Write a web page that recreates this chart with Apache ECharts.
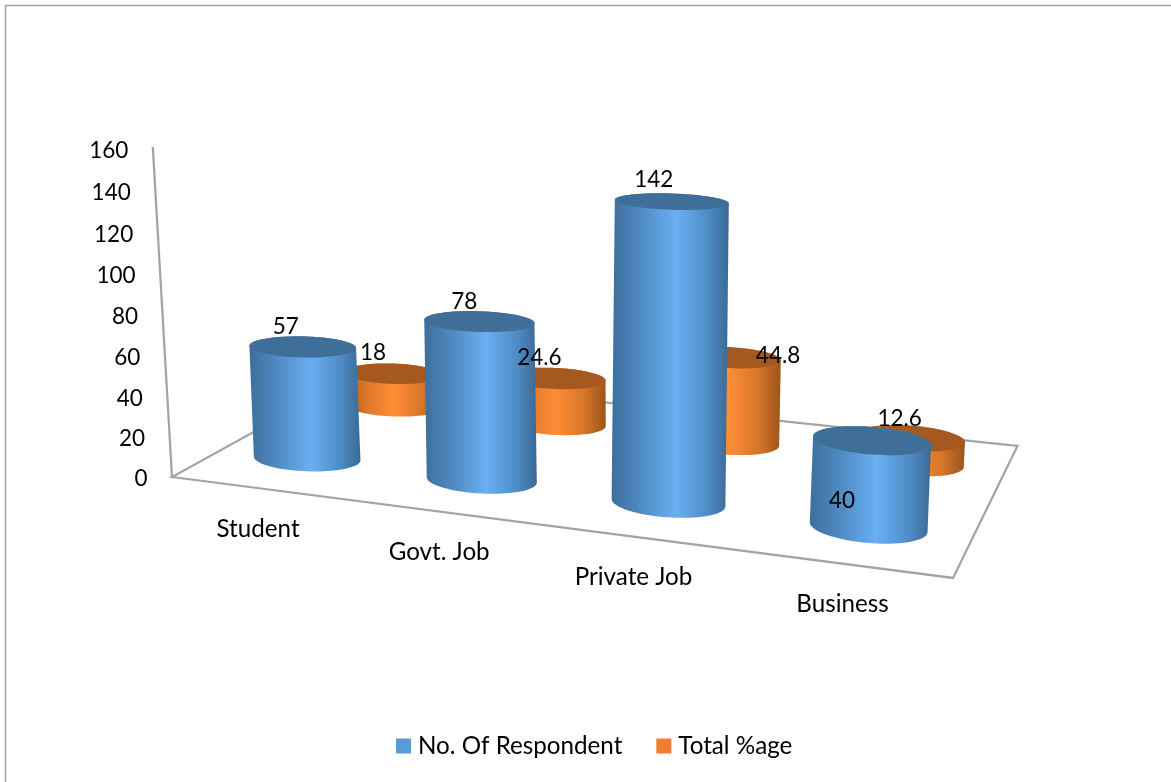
<!DOCTYPE html>
<html>
<head>
<meta charset="utf-8">
<style>html,body{margin:0;padding:0;background:#fff}#chart{width:1171px;height:782px}</style>
<script src="https://cdn.jsdelivr.net/npm/echarts@6/dist/echarts.min.js"></script>
</head>
<body>
<div id="chart"></div>
<script>
// Occupation survey: respondents and share per group
const categories = ['Student', 'Govt. Job', 'Private Job', 'Business'];
const respondents = [57, 78, 142, 40];
const percentages = [18, 24.6, 44.8, 12.6];
const yTicks = [0, 20, 40, 60, 80, 100, 120, 140, 160];

// Hand-placed data labels, as offsets from the centre of each cylinder's top
const respondentLabelOffsets = [[-17, -20], [-15, -20], [-18, -22], [-30, 60]];
const percentageLabelOffsets = [[-20, -21], [-16, -21], [49, -2], [-12, -19]];

const NUM_FONT = '22.5px Lato, Carlito, sans-serif';
const WORD_FONT = '24.2px Lato, Carlito, sans-serif';
const TEXT = '#000000';
const LINE = '#a3a3a3';

// Perspective map of the floor: (u, v) in the unit square to screen pixels
function floorPoint(u, v) {
  const w = -0.1335 * u + 0.1919 * v + 1;
  return [(653.8 * u + 251.1 * v + 172) / w, (23.8 * u - 28.8 * v + 477) / w, w];
}
// Axis pixels become slightly larger towards the top of the view
function stretch(h) { return h * (1 + h / 12800); }
// Verticals converge towards a point below the floor
function lean(x) { return (x - 590) * 0.00014; }

function ellipsePoints(cx, cy, rx, ry, tilt, from, to, n) {
  const pts = [], c = Math.cos(tilt), s = Math.sin(tilt);
  for (let k = 0; k <= n; k++) {
    const t = from + (to - from) * k / n;
    const ex = rx * Math.cos(t), ey = ry * Math.sin(t);
    pts.push([cx + ex * c - ey * s, cy + ex * s + ey * c]);
  }
  return pts;
}
function flatness(y) { return 0.145 + (y - 207) * 0.00038; }
function tiltAt(x, y) { return ((y - 200) * 0.007 + (x - 250) * 0.0045) * Math.PI / 180; }

function hGradient(stops) {
  return new echarts.graphic.LinearGradient(0, 0, 1, 0,
    stops.map(s => ({ offset: s[0], color: s[1] })));
}

// Screen geometry of one cylinder, from axis coordinates
function cylinder(params, api, depth) {
  const cs = params.coordSys;
  const i = api.value(0);
  const p0 = api.coord([i, 0]);
  const p1 = api.coord([i, api.value(1)]);
  const u = (p0[0] - cs.x) / cs.width * 1.003;
  const base = floorPoint(u, depth);
  const w = base[2];
  const H = stretch(p0[1] - p1[1]) / w;
  return {
    bx: base[0], by: base[1],
    tx: base[0] + lean(base[0]) * H, ty: base[1] - H,
    r: 55 / w
  };
}

function cylinderRenderer(depth, body, topFill) {
  return function (params, api) {
    const g = cylinder(params, api, depth);
    const ryB = g.r * flatness(g.by), ryT = g.r * flatness(g.ty);
    const tB = tiltAt(g.bx, g.by), tT = tiltAt(g.tx, g.ty);
    const side = ellipsePoints(g.bx, g.by, g.r, ryB, tB, 0, Math.PI, 40)
      .concat(ellipsePoints(g.tx, g.ty, g.r, ryT, tT, Math.PI, 2 * Math.PI, 40));
    return {
      type: 'group',
      children: [
        { type: 'polygon', shape: { points: side }, style: { fill: hGradient(body) } },
        { type: 'polygon', shape: { points: ellipsePoints(g.tx, g.ty, g.r, ryT, tT, 0, 2 * Math.PI, 64) }, style: { fill: topFill } }
      ]
    };
  };
}

function labelRenderer(depth, offsets) {
  return function (params, api) {
    const g = cylinder(params, api, depth);
    const o = offsets[params.dataIndex];
    return {
      type: 'text',
      style: {
        text: String(api.value(1)), x: g.tx + o[0], y: g.ty + o[1],
        font: NUM_FONT, fill: TEXT, align: 'center', verticalAlign: 'middle',
        textAlign: 'center', textVerticalAlign: 'middle'
      }
    };
  };
}

const pairs = arr => arr.map((v, i) => [i, v]);
const blueBody = [[0, '#3d6f9c'], [0.25, '#4f8ac2'], [0.55, '#69aff3'], [0.82, '#4f8cc6'], [1, '#3a6a96']];
const orangeBody = [[0, '#a9591b'], [0.25, '#e07a2b'], [0.5, '#ff8d36'], [0.78, '#d8762a'], [1, '#9c5519']];

const chart = echarts.init(document.getElementById('chart'), null, { renderer: 'canvas' });
chart.setOption({
  animation: false,
  backgroundColor: '#ffffff',
  grid: { left: 172, top: 157, width: 781, height: 320 },
  xAxis: { type: 'category', data: categories, show: false },
  yAxis: { type: 'value', min: 0, max: 160, interval: 20, show: false },
  legend: {
    data: ['No. Of Respondent', 'Total %age'],
    left: 396, top: 734, padding: 0, itemWidth: 15, itemHeight: 15, itemGap: 34,
    icon: 'rect',
    textStyle: { fontFamily: 'Lato', fontSize: 24.2, color: TEXT, padding: [0, 0, 0, 2] }
  },
  graphic: [{
    type: 'polyline', silent: true, z: 0,
    shape: { points: [[5.5, 782], [5.5, 5.5], [1171, 5.5]] },
    style: { stroke: '#a0a0a0', lineWidth: 1.5, fill: null }
  }],
  series: [
    { // floor outline and the value axis line
      type: 'custom', name: 'floor', coordinateSystem: 'cartesian2d', clip: false, silent: true, z: 1,
      data: [[0, 160]], encode: { x: 0, y: 1 },
      renderItem(params, api) {
        const c = floorPoint(0, 0);
        const H = stretch(api.coord([0, 0])[1] - api.coord([0, 160])[1]);
        const stroke = { stroke: LINE, lineWidth: 2.2, fill: null, lineJoin: 'miter' };
        return {
          type: 'group',
          children: [
            { type: 'polygon', shape: { points: [floorPoint(0, 0), floorPoint(1, 0), floorPoint(1, 1), floorPoint(0, 1)].map(p => [p[0], p[1]]) }, style: stroke },
            { type: 'polyline', shape: { points: [[c[0], c[1]], [c[0] + lean(c[0]) * H, c[1] - H - 2]] }, style: stroke }
          ]
        };
      }
    },
    { // value axis tick labels, following the slanted axis
      type: 'custom', name: 'ticks', coordinateSystem: 'cartesian2d', clip: false, silent: true, z: 1,
      data: yTicks.map(t => [0, t]), encode: { x: 0, y: 1 },
      renderItem(params, api) {
        const c = floorPoint(0, 0);
        const H = stretch(api.coord([0, 0])[1] - api.coord([0, api.value(1)])[1]);
        return {
          type: 'text',
          style: {
            text: String(api.value(1)), x: c[0] + lean(c[0]) * H - 24.5, y: c[1] - H + 2,
            font: NUM_FONT, fill: TEXT, align: 'right', verticalAlign: 'middle',
            textAlign: 'right', textVerticalAlign: 'middle'
          }
        };
      }
    },
    { // category labels under the front edge of the floor
      type: 'custom', name: 'categories', coordinateSystem: 'cartesian2d', clip: false, silent: true, z: 1,
      data: categories.map((c, i) => [i, 0]), encode: { x: 0, y: 1 },
      renderItem(params, api) {
        const cs = params.coordSys;
        const p = floorPoint((api.coord([api.value(0), 0])[0] - cs.x) / cs.width, 0);
        return {
          type: 'text',
          style: {
            text: categories[params.dataIndex], x: p[0], y: p[1] + 41,
            font: WORD_FONT, fill: TEXT, align: 'center', verticalAlign: 'middle',
            textAlign: 'center', textVerticalAlign: 'middle'
          }
        };
      }
    },
    {
      type: 'custom', name: 'Total %age', coordinateSystem: 'cartesian2d', clip: false, z: 2,
      itemStyle: { color: '#ED7D31' },
      data: pairs(percentages), encode: { x: 0, y: 1 },
      renderItem: cylinderRenderer(0.76, orangeBody, '#a6591e')
    },
    {
      type: 'custom', name: 'No. Of Respondent', coordinateSystem: 'cartesian2d', clip: false, z: 2,
      itemStyle: { color: '#5B9BD5' },
      data: pairs(respondents), encode: { x: 0, y: 1 },
      renderItem: cylinderRenderer(0.25, blueBody, '#3f6f99')
    },
    {
      type: 'custom', name: 'percentage labels', coordinateSystem: 'cartesian2d', clip: false, silent: true, z: 3,
      data: pairs(percentages), encode: { x: 0, y: 1 },
      renderItem: labelRenderer(0.76, percentageLabelOffsets)
    },
    {
      type: 'custom', name: 'respondent labels', coordinateSystem: 'cartesian2d', clip: false, silent: true, z: 3,
      data: pairs(respondents), encode: { x: 0, y: 1 },
      renderItem: labelRenderer(0.25, respondentLabelOffsets)
    }
  ]
});
</script>
</body>
</html>
